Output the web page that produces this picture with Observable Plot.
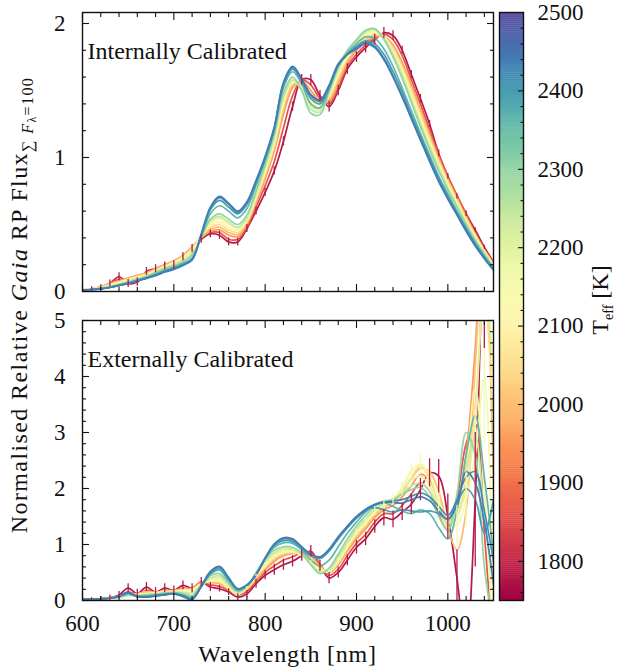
<!DOCTYPE html>
<html><head><meta charset="utf-8">
<script src="https://cdn.jsdelivr.net/npm/d3@7"></script>
<script src="https://cdn.jsdelivr.net/npm/@observablehq/plot@0.6"></script>
<style>
body{margin:0;background:#fff;}
#chart{position:relative;width:619px;height:670px;font-family:"Liberation Serif","DejaVu Serif",serif;}
#chart svg{position:absolute;overflow:visible;}
</style></head><body><div id="chart"></div>
<script>
// ---------- data ----------
const wavelength = [600,610,620,630,640,650,660,670,680,690,700,710,720,730,740,750,760,770,780,790,800,810,820,830,840,850,860,870,880,890,900,910,920,930,940,950,960,970,980,990,1000,1010,1020,1030,1040,1050];
const teffs = [1780,1860,1950,2000,2050,2100,2150,2200,2240,2300,2360,2400,2420,2440];

// Internally calibrated spectra
const internal1780 = [0.01,0.02,0.03,0.06,0.11,0.06,0.07,0.15,0.17,0.19, 0.20,0.26,0.32,0.39,0.43,0.42,0.37,0.37,0.47,0.60, 0.74,0.90,1.12,1.38,1.58,1.58,1.46,1.38,1.50,1.66, 1.75,1.82,1.88,1.93,1.91,1.80,1.62,1.44,1.25,1.03, 0.86,0.71,0.58,0.46,0.33,0.22];
const internal1860 = [0.01,0.02,0.035,0.06,0.09,0.09,0.10,0.14,0.17,0.20, 0.22,0.27,0.33,0.40,0.44,0.44,0.39,0.39,0.48,0.63, 0.79,0.97,1.22,1.46,1.58,1.54,1.44,1.40,1.52,1.68, 1.77,1.84,1.89,1.92,1.88,1.76,1.58,1.40,1.21,1.02, 0.86,0.72,0.58,0.44,0.32,0.21];
const internal1950 = [0.01,0.02,0.035,0.06,0.08,0.10,0.12,0.14,0.17,0.20, 0.23,0.27,0.33,0.40,0.45,0.46,0.42,0.41,0.50,0.66, 0.84,1.05,1.32,1.52,1.57,1.50,1.42,1.42,1.55,1.70, 1.80,1.86,1.90,1.90,1.84,1.71,1.54,1.36,1.18,1.00, 0.84,0.70,0.56,0.43,0.31,0.21];
const internal2000 = [0.01,0.02,0.032,0.055,0.075,0.095,0.115,0.135,0.165,0.195, 0.225,0.265,0.325,0.405,0.465,0.48,0.44,0.425,0.51,0.675, 0.86,1.07,1.35,1.54,1.555,1.47,1.41,1.435,1.575,1.72, 1.815,1.875,1.91,1.90,1.825,1.69,1.52,1.34,1.16,0.985, 0.83,0.69,0.55,0.425,0.305,0.205];
const internal2050 = [0.01,0.02,0.03,0.05,0.07,0.09,0.11,0.13,0.16,0.19, 0.22,0.26,0.32,0.41,0.48,0.50,0.46,0.44,0.52,0.69, 0.88,1.09,1.38,1.56,1.54,1.44,1.40,1.45,1.60,1.74, 1.83,1.89,1.92,1.90,1.81,1.67,1.50,1.32,1.14,0.97, 0.82,0.68,0.54,0.42,0.30,0.20];
const internal2100 = [0.01,0.02,0.03,0.048,0.068,0.088,0.105,0.125,0.155,0.185, 0.215,0.255,0.31,0.41,0.495,0.52,0.48,0.455,0.53,0.70, 0.895,1.11,1.40,1.565,1.525,1.42,1.385,1.46,1.615,1.75, 1.84,1.905,1.93,1.90,1.80,1.655,1.48,1.30,1.12,0.955, 0.805,0.665,0.53,0.41,0.295,0.195];
const internal2150 = [0.01,0.02,0.03,0.045,0.065,0.085,0.10,0.12,0.15,0.18, 0.21,0.25,0.30,0.41,0.51,0.54,0.50,0.47,0.54,0.71, 0.91,1.13,1.42,1.57,1.51,1.40,1.37,1.47,1.63,1.76, 1.85,1.92,1.94,1.90,1.79,1.64,1.46,1.28,1.10,0.94, 0.79,0.65,0.52,0.40,0.29,0.19];
const internal2200 = [0.01,0.018,0.028,0.042,0.06,0.08,0.098,0.118,0.148,0.178, 0.205,0.24,0.29,0.405,0.52,0.55,0.51,0.475,0.545,0.72, 0.92,1.14,1.435,1.575,1.505,1.38,1.355,1.475,1.645,1.775, 1.86,1.93,1.95,1.895,1.78,1.625,1.445,1.265,1.09,0.93, 0.78,0.645,0.515,0.395,0.285,0.185];
const internal2240 = [0.01,0.015,0.025,0.04,0.055,0.075,0.095,0.115,0.145,0.175, 0.20,0.23,0.28,0.40,0.53,0.56,0.52,0.48,0.55,0.73, 0.93,1.15,1.45,1.58,1.50,1.36,1.34,1.48,1.66,1.79, 1.87,1.94,1.96,1.89,1.77,1.61,1.43,1.25,1.08,0.92, 0.77,0.64,0.51,0.39,0.28,0.18];
const internal2300 = [0.01,0.015,0.025,0.035,0.05,0.07,0.09,0.11,0.14,0.17, 0.19,0.22,0.27,0.40,0.54,0.58,0.54,0.50,0.57,0.75, 0.95,1.18,1.48,1.60,1.50,1.33,1.32,1.50,1.68,1.80, 1.88,1.95,1.96,1.88,1.75,1.59,1.41,1.23,1.06,0.90, 0.76,0.63,0.50,0.38,0.28,0.18];
const internal2360 = [0.01,0.015,0.02,0.032,0.048,0.065,0.085,0.105,0.13,0.16, 0.18,0.21,0.25,0.41,0.58,0.64,0.60,0.55,0.62,0.79, 0.98,1.20,1.52,1.64,1.55,1.40,1.37,1.51,1.68,1.78, 1.85,1.90,1.89,1.81,1.68,1.52,1.35,1.18,1.02,0.86, 0.73,0.60,0.48,0.36,0.26,0.17];
const internal2400 = [0.01,0.015,0.02,0.03,0.046,0.062,0.082,0.10,0.125,0.15, 0.175,0.20,0.24,0.42,0.61,0.68,0.63,0.58,0.65,0.81, 0.99,1.21,1.54,1.66,1.57,1.44,1.40,1.52,1.69,1.77, 1.83,1.87,1.85,1.77,1.64,1.49,1.32,1.16,1.00,0.85, 0.71,0.59,0.47,0.36,0.26,0.17];
const internal2420 = [0.01,0.015,0.02,0.03,0.045,0.06,0.08,0.10,0.12,0.15, 0.17,0.20,0.24,0.42,0.62,0.70,0.65,0.59,0.66,0.82, 1.00,1.22,1.55,1.67,1.58,1.46,1.42,1.53,1.69,1.77, 1.82,1.86,1.83,1.74,1.61,1.46,1.30,1.14,0.98,0.83, 0.70,0.58,0.46,0.35,0.25,0.16];
const internal2440 = [0.01,0.014,0.02,0.03,0.044,0.058,0.078,0.098,0.118,0.145, 0.165,0.195,0.235,0.43,0.63,0.71,0.66,0.60,0.67,0.83, 1.01,1.23,1.56,1.68,1.59,1.47,1.43,1.54,1.70,1.77, 1.81,1.85,1.82,1.73,1.60,1.45,1.29,1.13,0.97,0.82, 0.69,0.57,0.45,0.34,0.245,0.16];
const errInternal1780 = [0.01,0.015,0.02,0.025,0.03,0.03,0.03,0.03,0.03,0.03, 0.03,0.03,0.03,0.03,0.03,0.03,0.03,0.03,0.03,0.03, 0.03,0.03,0.035,0.035,0.04,0.04,0.04,0.04,0.04,0.04, 0.04,0.04,0.04,0.04,0.035,0.03,0.03,0.03,0.025,0.025, 0.02,0.02,0.02,0.015,0.015,0.01];

// Externally calibrated spectra
const external1780 = [0.03,0.02,0.03,0.05,0.10,0.22,0.12,0.24,0.15,0.22, 0.18,0.27,0.22,0.33,0.24,0.21,0.15,0.06,0.12,0.30, 0.45,0.55,0.64,0.70,0.80,0.88,0.62,0.40,0.50,0.72, 0.95,1.10,1.32,1.48,1.45,1.58,1.72,1.98,2.28,2.22, 1.50,0.40,-0.80,1.80,6.50,8.00];
const external1860 = [0.02,0.02,0.03,0.05,0.08,0.15,0.10,0.18,0.14,0.18, 0.17,0.22,0.22,0.32,0.28,0.25,0.18,0.10,0.16,0.33, 0.50,0.62,0.72,0.78,0.85,0.86,0.65,0.45,0.56,0.80, 1.02,1.18,1.40,1.55,1.55,1.70,1.90,2.10,1.95,1.55, 1.25,1.80,2.80,3.15,1.20,-1.00];
const external1950 = [0.02,0.02,0.03,0.05,0.07,0.12,0.12,0.15,0.15,0.17, 0.18,0.20,0.22,0.32,0.32,0.30,0.20,0.12,0.20,0.38, 0.55,0.70,0.80,0.84,0.85,0.80,0.62,0.50,0.64,0.88, 1.10,1.28,1.48,1.62,1.70,1.85,2.05,2.25,2.15,1.80, 1.45,1.60,2.60,4.50,7.00,6.00];
const external2000 = [0.02,0.02,0.03,0.05,0.07,0.11,0.12,0.16,0.14,0.18, 0.17,0.21,0.20,0.31,0.33,0.31,0.21,0.11,0.21,0.40, 0.58,0.73,0.82,0.86,0.84,0.77,0.60,0.50,0.66,0.90, 1.15,1.32,1.52,1.66,1.76,1.92,2.18,2.36,2.30,1.95, 1.30,0.90,1.60,4.20,6.50,2.00];
const external2050 = [0.02,0.02,0.03,0.04,0.06,0.10,0.11,0.13,0.14,0.16, 0.17,0.19,0.20,0.30,0.34,0.33,0.22,0.12,0.22,0.42, 0.60,0.76,0.84,0.86,0.82,0.74,0.58,0.52,0.68,0.94, 1.18,1.35,1.55,1.68,1.78,1.95,2.20,2.40,2.20,1.75, 1.40,1.50,2.20,3.50,5.50,3.00];
const external2100 = [0.02,0.02,0.03,0.04,0.06,0.09,0.11,0.12,0.13,0.15, 0.16,0.18,0.19,0.29,0.35,0.35,0.22,0.12,0.22,0.44, 0.62,0.78,0.86,0.87,0.81,0.70,0.56,0.52,0.70,0.96, 1.20,1.38,1.58,1.70,1.80,2.02,2.32,2.42,2.10,1.62, 1.30,1.55,2.40,3.80,2.00,-1.00];
const external2150 = [0.02,0.02,0.03,0.04,0.06,0.09,0.10,0.12,0.13,0.15, 0.16,0.17,0.18,0.28,0.36,0.36,0.22,0.11,0.23,0.45, 0.64,0.80,0.88,0.88,0.80,0.68,0.54,0.52,0.72,0.98, 1.22,1.40,1.60,1.72,1.80,2.00,2.30,2.44,2.25,1.80, 1.42,1.35,1.80,2.60,4.00,-0.50];
const external2200 = [0.02,0.02,0.03,0.04,0.06,0.09,0.10,0.11,0.12,0.14, 0.15,0.15,0.14,0.28,0.38,0.40,0.25,0.12,0.23,0.46, 0.67,0.83,0.90,0.90,0.81,0.66,0.52,0.53,0.75,1.01, 1.25,1.43,1.62,1.73,1.82,1.98,2.15,2.22,2.05,1.70, 1.40,1.50,2.00,3.20,5.80,4.00];
const external2240 = [0.02,0.02,0.03,0.04,0.06,0.09,0.09,0.11,0.12,0.14, 0.15,0.14,0.12,0.28,0.40,0.44,0.28,0.14,0.24,0.48, 0.70,0.86,0.93,0.92,0.82,0.64,0.50,0.55,0.78,1.04, 1.28,1.46,1.63,1.73,1.80,1.92,2.05,2.10,1.95,1.62, 1.35,1.65,2.40,2.90,1.50,0.20];
const external2300 = [0.02,0.02,0.03,0.04,0.06,0.10,0.08,0.10,0.11,0.13, 0.14,0.12,0.08,0.27,0.44,0.48,0.31,0.16,0.25,0.50, 0.74,0.90,0.96,0.95,0.84,0.64,0.48,0.58,0.83,1.10, 1.33,1.52,1.68,1.78,1.80,1.90,1.98,2.02,1.85,1.50, 1.25,1.90,3.00,2.60,0.60,-0.50];
const external2360 = [0.02,0.02,0.03,0.04,0.07,0.12,0.08,0.08,0.10,0.12, 0.13,0.10,0.05,0.26,0.47,0.54,0.35,0.18,0.26,0.48, 0.74,0.95,1.03,1.02,0.90,0.72,0.62,0.72,0.96,1.20, 1.40,1.58,1.70,1.75,1.68,1.60,1.55,1.62,1.55,1.30, 1.10,1.60,2.60,3.30,2.20,0.80];
const external2400 = [0.02,0.02,0.03,0.04,0.07,0.13,0.07,0.07,0.09,0.11, 0.12,0.09,0.03,0.24,0.48,0.57,0.38,0.20,0.27,0.47, 0.76,0.98,1.07,1.05,0.93,0.80,0.75,0.88,1.10,1.30, 1.48,1.62,1.66,1.62,1.58,1.62,1.60,1.58,1.60,1.55, 1.45,1.75,2.00,1.80,1.20,1.80];
const external2420 = [0.02,0.02,0.03,0.04,0.08,0.15,0.08,0.06,0.08,0.10, 0.12,0.08,0.02,0.25,0.50,0.60,0.40,0.21,0.27,0.45, 0.75,1.00,1.10,1.08,0.95,0.82,0.77,0.90,1.12,1.30, 1.47,1.60,1.70,1.75,1.78,1.80,1.86,1.92,1.85,1.68, 1.52,1.80,2.20,2.30,1.60,0.70];
const external2440 = [0.02,0.02,0.03,0.04,0.08,0.14,0.07,0.06,0.08,0.10, 0.12,0.07,0.02,0.26,0.52,0.61,0.41,0.21,0.28,0.46, 0.76,1.01,1.12,1.10,0.96,0.83,0.78,0.92,1.14,1.33, 1.50,1.63,1.72,1.76,1.75,1.74,1.80,1.85,1.78,1.60, 1.45,1.70,2.30,2.10,1.40,0.30];
const errExternal1780 = [0.03,0.03,0.04,0.05,0.06,0.08,0.08,0.08,0.08,0.08, 0.08,0.08,0.08,0.08,0.08,0.06,0.06,0.06,0.06,0.08, 0.08,0.10,0.10,0.10,0.10,0.10,0.10,0.10,0.10,0.10, 0.12,0.12,0.12,0.15,0.15,0.15,0.18,0.20,0.25,0.30, 0.40,0.50,0.80,1.20,2.00,3.00];
const errExternal2150 = [0.01,0.01,0.01,0.01,0.01,0.01,0.01,0.01,0.01,0.01, 0.01,0.01,0.01,0.01,0.02,0.02,0.02,0.02,0.02,0.02, 0.02,0.02,0.02,0.02,0.03,0.03,0.03,0.03,0.04,0.05, 0.06,0.07,0.08,0.10,0.10,0.12,0.15,0.18,0.20,0.22, 0.28,0.35,0.50,0.80,1.20,2.00];

// ticks
const xMajorTicks = [600,700,800,900,1000];
const xMinorTicks = [620,640,660,680,720,740,760,780,820,840,860,880,920,940,960,980,1020,1040];
const yTopMajor = [0,1,2];
const yBottomMajor = [0,1,2,3,4,5];
const cbarMajor = [1800,1900,2000,2100,2200,2300,2400,2500];
const panelLabels = ["Internally Calibrated", "Externally Calibrated"];

// ---------- build tables ----------
const internalSeries = [internal1780,internal1860,internal1950,internal2000,internal2050,internal2100,internal2150,internal2200,internal2240,internal2300,internal2360,internal2400,internal2420,internal2440];
const externalSeries = [external1780,external1860,external1950,external2000,external2050,external2100,external2150,external2200,external2240,external2300,external2360,external2400,external2420,external2440];
const toRows = series => series.flatMap((vals, k) => vals.map((v, i) => ({w: wavelength[i], v, teff: teffs[k]})));
const rowsTop = toRows(internalSeries);
const rowsBottom = toRows(externalSeries);
const errRows = (vals, errs, t) => vals.map((v, i) => ({w: wavelength[i], lo: v - errs[i], hi: v + errs[i], teff: t}));
const errTop = errRows(internal1780, errInternal1780, 1780);
const errBottom = [...errRows(external2150, errExternal2150, 2150), ...errRows(external1780, errExternal1780, 1780)];

const FONT = '"Liberation Serif", "DejaVu Serif", serif';
const FS = 23;
const fmt = d => String(d);
const colorScale = {type: "linear", scheme: "spectral", domain: [1750, 2500]};
const minorRange = (a, b, step, majors) => d3.range(a, b + 1e-9, step).map(v => +v.toFixed(3)).filter(v => !majors.includes(v));

function panel({rows, errs, yDomain, yMajor, label, showXLabels, height, marginTop, marginBottom}) {
  const yMinor = minorRange(yDomain[0], yDomain[1], 0.2, yMajor);
  const tick = (fn, ticks, anchor, size) => fn(ticks, {anchor, tickSize: -size, tickFormat: () => "", label: null, strokeWidth: 1.1});
  const svg = Plot.plot({
    width: 500, height, marginLeft: 82, marginRight: 7, marginTop, marginBottom,
    x: {domain: [600, 1050]},
    y: {domain: yDomain},
    color: colorScale,
    style: {fontFamily: FONT, fontSize: FS + "px", background: "transparent", color: "#111"},
    marks: [
      Plot.line(rows, {x: "w", y: "v", z: "teff", stroke: "teff", strokeWidth: 1.7, curve: "catmull-rom", clip: true}),
      Plot.ruleX(errs, {x: "w", y1: "lo", y2: "hi", stroke: "teff", strokeWidth: 1.3, clip: true}),
      Plot.frame({stroke: "#111", strokeWidth: 1.4}),
      tick(Plot.axisX, xMajorTicks, "bottom", 7),
      tick(Plot.axisX, xMajorTicks, "top", 7),
      tick(Plot.axisX, xMinorTicks, "bottom", 4),
      tick(Plot.axisX, xMinorTicks, "top", 4),
      tick(Plot.axisY, yMajor, "left", 7),
      tick(Plot.axisY, yMajor, "right", 7),
      tick(Plot.axisY, yMinor, "left", 4),
      tick(Plot.axisY, yMinor, "right", 4),
      Plot.axisY(yMajor, {anchor: "left", tickSize: 0, tickPadding: 17, label: null, fontSize: FS, tickFormat: fmt}),
      showXLabels ? Plot.axisX(xMajorTicks, {anchor: "bottom", tickSize: 0, tickPadding: 14, label: null, fontSize: FS, tickFormat: fmt}) : null,
      Plot.text([label], {frameAnchor: "top-left", dx: 5, dy: 29, lineAnchor: "top", textAnchor: "start", fontSize: 24, fill: "#111", ariaLabel: "panel-label"})
    ]
  });
  svg.querySelectorAll('g[aria-label="panel-label"] text').forEach(t => t.style.letterSpacing = "1.1px");
  return svg;
}

const chart = document.getElementById("chart");
const place = (el, left, top) => { el.style.left = left + "px"; el.style.top = top + "px"; chart.appendChild(el); };

place(panel({rows: rowsTop, errs: errTop, yDomain: [0, 2.082], yMajor: yTopMajor, label: panelLabels[0], showXLabels: false, height: 300, marginTop: 12, marginBottom: 9}), 0, 0);
place(panel({rows: rowsBottom, errs: errBottom, yDomain: [0, 5], yMajor: yBottomMajor, label: panelLabels[1], showXLabels: true, height: 370, marginTop: 20, marginBottom: 70}), 0, 300);

// colorbar
const cbarSteps = d3.range(1750, 2500, 2.5);
const cbarMinor = minorRange(1760, 2500, 20, cbarMajor);
const cbar = Plot.plot({
  width: 139, height: 670, marginLeft: 19, marginRight: 96, marginTop: 12, marginBottom: 70,
  y: {domain: [1750, 2500]},
  color: colorScale,
  style: {fontFamily: FONT, fontSize: FS + "px", background: "transparent", color: "#111"},
  marks: [
    Plot.rect(cbarSteps, {y1: d => d, y2: d => Math.min(2500, d + 3), fill: d => d + 1.25}),
    Plot.frame({stroke: "#111", strokeWidth: 1.4}),
    Plot.axisY(cbarMajor, {anchor: "right", tickSize: -6, tickFormat: () => "", label: null, strokeWidth: 1.1}),
    Plot.axisY(cbarMinor, {anchor: "right", tickSize: -3.5, tickFormat: () => "", label: null, strokeWidth: 1.1}),
    Plot.axisY(cbarMajor, {anchor: "right", tickSize: 0, tickPadding: 14, label: null, fontSize: FS, tickFormat: fmt})
  ]
});
place(cbar, 480, 0);

// overlay text: axis titles
const ov = d3.create("svg").attr("width", 619).attr("height", 670)
  .style("font-family", FONT).attr("fill", "#111").style("left", "0px").style("top", "0px");
const yl = ov.append("text").attr("transform", "translate(27,305) rotate(-90)").attr("text-anchor", "middle")
  .attr("font-size", 24).style("letter-spacing", "1.4px");
yl.append("tspan").text("Normalised Relative ");
yl.append("tspan").attr("font-style", "italic").text("Gaia");
yl.append("tspan").text(" RP Flux");
yl.append("tspan").attr("font-size", 16).attr("dy", 6).text("∑ ");
yl.append("tspan").attr("font-size", 16).attr("font-style", "italic").text("F");
yl.append("tspan").attr("font-size", 12).attr("dy", 3).text("λ");
yl.append("tspan").attr("font-size", 16).attr("dy", -3).text("=100");
ov.append("text").attr("x", 287.5).attr("y", 662).attr("text-anchor", "middle").attr("font-size", 24)
  .style("letter-spacing", "0.8px").text("Wavelength [nm]");
const cl = ov.append("text").attr("transform", "translate(608,300) rotate(-90)").attr("text-anchor", "middle").attr("font-size", 24);
cl.append("tspan").text("T");
cl.append("tspan").attr("font-size", 14).attr("dy", 5).text("eff");
cl.append("tspan").attr("dy", -5).text(" [K]");
chart.appendChild(ov.node());
</script></body></html>
